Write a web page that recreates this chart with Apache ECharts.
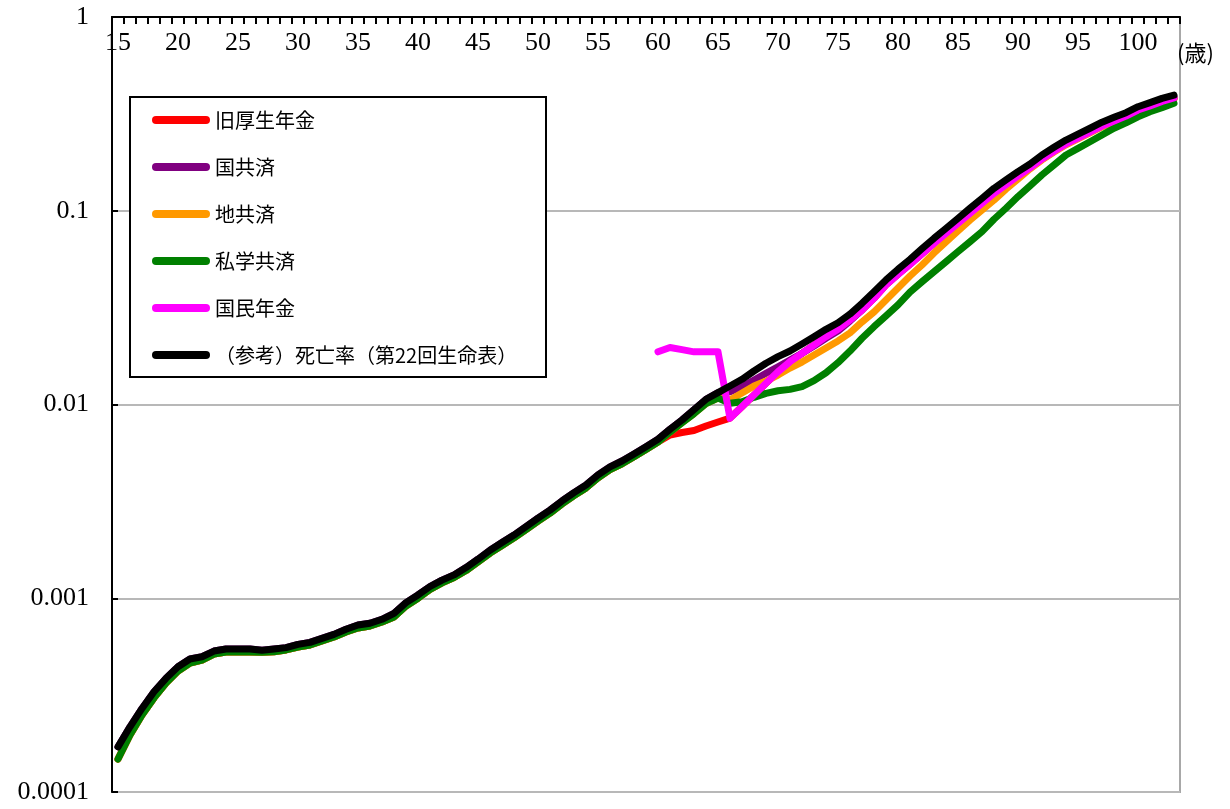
<!DOCTYPE html>
<html>
<head>
<meta charset="utf-8">
<script src="https://cdn.jsdelivr.net/npm/echarts@6/dist/echarts.min.js"></script>
<style>
html,body{margin:0;padding:0;background:#fff;}
#chart{width:1230px;height:809px;}
</style>
</head>
<body>
<div id="chart"></div>
<script>
// ages 15..103
const ages = [];
for (let a = 15; a <= 103; a++) ages.push(String(a));

const yTickLabels = ['1', '0.1', '0.01', '0.001', '0.0001'];

const seriesNames = ['旧厚生年金', '国共済', '地共済', '私学共済', '国民年金', '（参考）死亡率（第22回生命表）'];

const kyuKousei = [
 1.48e-4,1.97e-4,2.50e-4,3.06e-4,3.65e-4,4.21e-4,4.63e-4,4.80e-4,5.15e-4,5.28e-4,
 5.28e-4,5.28e-4,5.26e-4,5.30e-4,5.41e-4,5.60e-4,5.74e-4,6.02e-4,6.31e-4,6.70e-4,
 7.02e-4,7.19e-4,7.54e-4,8.00e-4,9.12e-4,1.00e-3,1.11e-3,1.20e-3,1.28e-3,1.39e-3,
 1.54e-3,1.71e-3,1.87e-3,2.05e-3,2.26e-3,2.50e-3,2.75e-3,3.07e-3,3.39e-3,3.71e-3,
 4.18e-3,4.61e-3,4.94e-3,5.37e-3,5.85e-3,6.40e-3,6.96e-3,7.17e-3,7.34e-3,7.74e-3,
 8.12e-3,8.51e-3,9.75e-3,1.119e-2,1.286e-2,1.476e-2,1.663e-2,1.837e-2,2.028e-2,2.239e-2,
 2.443e-2,2.729e-2,3.076e-2,3.532e-2,4.140e-2,4.699e-2,5.297e-2,5.998e-2,6.792e-2,7.656e-2,
 8.610e-2,9.70e-2,0.1092,0.1230,0.1365,0.1511,0.1663,0.1849,0.2028,0.2213,
 0.2371,0.2547,0.2735,0.2904,0.3083,0.3311,0.3475,0.3664,0.3819];

const kuniKyosai = [
 1.71e-4,2.17e-4,2.70e-4,3.29e-4,3.86e-4,4.43e-4,4.86e-4,4.99e-4,5.34e-4,5.47e-4,
 5.47e-4,5.47e-4,5.39e-4,5.47e-4,5.56e-4,5.78e-4,5.92e-4,6.21e-4,6.51e-4,6.92e-4,
 7.28e-4,7.43e-4,7.79e-4,8.36e-4,9.49e-4,1.04e-3,1.15e-3,1.24e-3,1.32e-3,1.44e-3,
 1.59e-3,1.77e-3,1.94e-3,2.12e-3,2.34e-3,2.59e-3,2.85e-3,3.18e-3,3.51e-3,3.84e-3,
 4.33e-3,4.77e-3,5.11e-3,5.56e-3,6.06e-3,6.62e-3,7.45e-3,8.32e-3,9.40e-3,1.064e-2,
 1.151e-2,1.164e-2,1.236e-2,1.337e-2,1.449e-2,1.567e-2,1.698e-2,1.837e-2,2.004e-2,2.197e-2,
 2.393e-2,2.698e-2,3.076e-2,3.589e-2,4.285e-2,4.866e-2,5.483e-2,6.223e-2,7.036e-2,7.925e-2,
 8.931e-2,0.1005,0.1132,0.1275,0.1406,0.1553,0.1702,0.1892,0.2075,0.2265,
 0.2432,0.2603,0.2793,0.2965,0.3133,0.3365,0.3532,0.3715,0.3864];

const chiKyosai = [
 1.48e-4,1.97e-4,2.50e-4,3.06e-4,3.65e-4,4.21e-4,4.63e-4,4.80e-4,5.15e-4,5.28e-4,
 5.28e-4,5.28e-4,5.26e-4,5.30e-4,5.41e-4,5.60e-4,5.74e-4,6.02e-4,6.31e-4,6.70e-4,
 7.02e-4,7.19e-4,7.54e-4,8.00e-4,9.12e-4,1.00e-3,1.11e-3,1.20e-3,1.28e-3,1.39e-3,
 1.54e-3,1.71e-3,1.87e-3,2.05e-3,2.26e-3,2.50e-3,2.75e-3,3.07e-3,3.39e-3,3.71e-3,
 4.18e-3,4.61e-3,4.94e-3,5.37e-3,5.85e-3,6.40e-3,7.20e-3,8.04e-3,8.97e-3,1.01e-2,
 1.08e-2,1.055e-2,1.146e-2,1.246e-2,1.322e-2,1.419e-2,1.542e-2,1.656e-2,1.800e-2,1.958e-2,
 2.128e-2,2.342e-2,2.667e-2,3.000e-2,3.459e-2,3.990e-2,4.603e-2,5.248e-2,6.053e-2,6.902e-2,
 7.870e-2,8.954e-2,0.1009,0.1135,0.1294,0.1459,0.1646,0.1830,0.2008,0.2191,
 0.2347,0.2522,0.2708,0.2875,0.3052,0.3278,0.3440,0.3627,0.3781];

const shigakuKyosai = [
 1.48e-4,1.97e-4,2.50e-4,3.06e-4,3.65e-4,4.21e-4,4.63e-4,4.80e-4,5.15e-4,5.28e-4,
 5.28e-4,5.28e-4,5.26e-4,5.30e-4,5.41e-4,5.60e-4,5.74e-4,6.02e-4,6.31e-4,6.70e-4,
 7.02e-4,7.19e-4,7.54e-4,8.00e-4,9.12e-4,1.00e-3,1.11e-3,1.20e-3,1.28e-3,1.39e-3,
 1.54e-3,1.71e-3,1.87e-3,2.05e-3,2.26e-3,2.50e-3,2.75e-3,3.07e-3,3.39e-3,3.71e-3,
 4.18e-3,4.61e-3,4.94e-3,5.37e-3,5.85e-3,6.40e-3,7.20e-3,8.04e-3,8.97e-3,1.01e-2,
 1.08e-2,1.014e-2,1.033e-2,1.089e-2,1.142e-2,1.178e-2,1.197e-2,1.236e-2,1.327e-2,1.459e-2,
 1.644e-2,1.888e-2,2.197e-2,2.522e-2,2.864e-2,3.265e-2,3.80e-2,4.30e-2,4.842e-2,5.457e-2,
 6.15e-2,6.92e-2,7.80e-2,9.04e-2,0.1030,0.1183,0.1343,0.1531,0.1722,0.1941,
 0.2099,0.2270,0.2460,0.2667,0.2844,0.3055,0.3245,0.3404,0.3589];

const kokuminNenkin = [
 null,null,null,null,null,null,null,null,null,null,
 null,null,null,null,null,null,null,null,null,null,
 null,null,null,null,null,null,null,null,null,null,
 null,null,null,null,null,null,null,null,null,null,
 null,null,null,null,null,1.87e-2,1.97e-2,1.92e-2,1.87e-2,1.87e-2,
 1.87e-2,8.49e-3,9.75e-3,1.119e-2,1.286e-2,1.476e-2,1.663e-2,1.837e-2,2.028e-2,2.239e-2,
 2.443e-2,2.729e-2,3.076e-2,3.532e-2,4.140e-2,4.699e-2,5.297e-2,5.998e-2,6.792e-2,7.656e-2,
 8.610e-2,9.70e-2,0.1092,0.1230,0.1365,0.1511,0.1663,0.1849,0.2028,0.2213,
 0.2371,0.2547,0.2735,0.2904,0.3083,0.3311,0.3475,0.3664,0.3819];

const lifeTable22 = [
 1.71e-4,2.17e-4,2.70e-4,3.29e-4,3.86e-4,4.43e-4,4.86e-4,4.99e-4,5.34e-4,5.47e-4,
 5.47e-4,5.47e-4,5.39e-4,5.47e-4,5.56e-4,5.78e-4,5.92e-4,6.21e-4,6.51e-4,6.92e-4,
 7.28e-4,7.43e-4,7.79e-4,8.36e-4,9.49e-4,1.04e-3,1.15e-3,1.24e-3,1.32e-3,1.44e-3,
 1.59e-3,1.77e-3,1.94e-3,2.12e-3,2.34e-3,2.59e-3,2.85e-3,3.18e-3,3.51e-3,3.84e-3,
 4.33e-3,4.77e-3,5.11e-3,5.56e-3,6.06e-3,6.62e-3,7.45e-3,8.32e-3,9.40e-3,1.064e-2,
 1.151e-2,1.246e-2,1.349e-2,1.489e-2,1.633e-2,1.766e-2,1.888e-2,2.052e-2,2.239e-2,2.443e-2,
 2.642e-2,2.931e-2,3.327e-2,3.819e-2,4.395e-2,4.989e-2,5.61e-2,6.37e-2,7.21e-2,8.11e-2,
 9.14e-2,0.1030,0.1159,0.1306,0.1442,0.1592,0.1742,0.1941,0.2125,0.2317,
 0.2489,0.2665,0.2863,0.3035,0.3206,0.3443,0.3614,0.3802,0.3954];

const seriesData = [kyuKousei, kuniKyosai, chiKyosai, shigakuKyosai, kokuminNenkin, lifeTable22];
const colors = ['#ff0000', '#800080', '#ff9900', '#008000', '#ff00ff', '#000000'];

const chart = echarts.init(document.getElementById('chart'), null, {renderer: 'canvas'});
const capsule = 'path://M4,0H54A4,4,0,0,1,54,8H4A4,4,0,0,1,4,0Z';

chart.setOption({
  animation: false,
  backgroundColor: '#fff',
  grid: {left: 112, right: 50, top: 17, bottom: 17, show: true, borderColor: '#a8a8a8', borderWidth: 2, backgroundColor: 'transparent'},
  xAxis: {
    type: 'category',
    position: 'top',
    data: ages,
    boundaryGap: true,
    axisLine: {show: true, lineStyle: {color: '#000', width: 2}},
    axisTick: {show: true, inside: true, length: 7, interval: 0, lineStyle: {color: '#000', width: 2}},
    axisLabel: {show: true, inside: true, interval: 4, margin: 13, fontFamily: 'Liberation Serif', fontSize: 26, color: '#000'},
    splitLine: {show: false}
  },
  yAxis: {
    type: 'log',
    logBase: 10,
    min: 0.0001,
    max: 1,
    axisLine: {show: true, lineStyle: {color: '#000', width: 2}},
    axisTick: {show: true, inside: true, length: 6, lineStyle: {color: '#000', width: 2}},
    axisLabel: {
      margin: 23, fontFamily: 'Liberation Serif', fontSize: 26, color: '#000',
      formatter: function (v) { return yTickLabels[Math.round(-Math.log10(v))]; }
    },
    splitLine: {show: true, lineStyle: {color: '#b8b8b8', width: 2}},
    minorTick: {show: false}
  },
  legend: {
    orient: 'vertical',
    left: 152,
    top: 110,
    padding: 0,
    itemWidth: 58,
    itemHeight: 8,
    itemGap: 27,
    icon: capsule,
    selectedMode: false,
    z: 100,
    textStyle: {fontFamily: 'Noto Sans CJK JP', fontSize: 20, color: '#000'},
    data: seriesNames
  },
  graphic: [
    {type: 'rect', z: 50, shape: {x: 130, y: 97, width: 416, height: 280}, style: {fill: '#fff', stroke: '#000', lineWidth: 2}},
    {type: 'text', z: 50, left: 1177, top: 42, style: {text: '(歳)', fontFamily: 'Noto Sans CJK JP', fontSize: 22, fill: '#000'}}
  ],
  series: seriesNames.map(function (name, i) {
    return {
      name: name,
      type: 'line',
      data: seriesData[i],
      symbol: 'none',
      showSymbol: false,
      connectNulls: false,
      color: colors[i],
      itemStyle: {color: colors[i]},
      lineStyle: {color: colors[i], width: 7, cap: 'round', join: 'round'},
      z: 2 + i
    };
  })
});
</script>
</body>
</html>
